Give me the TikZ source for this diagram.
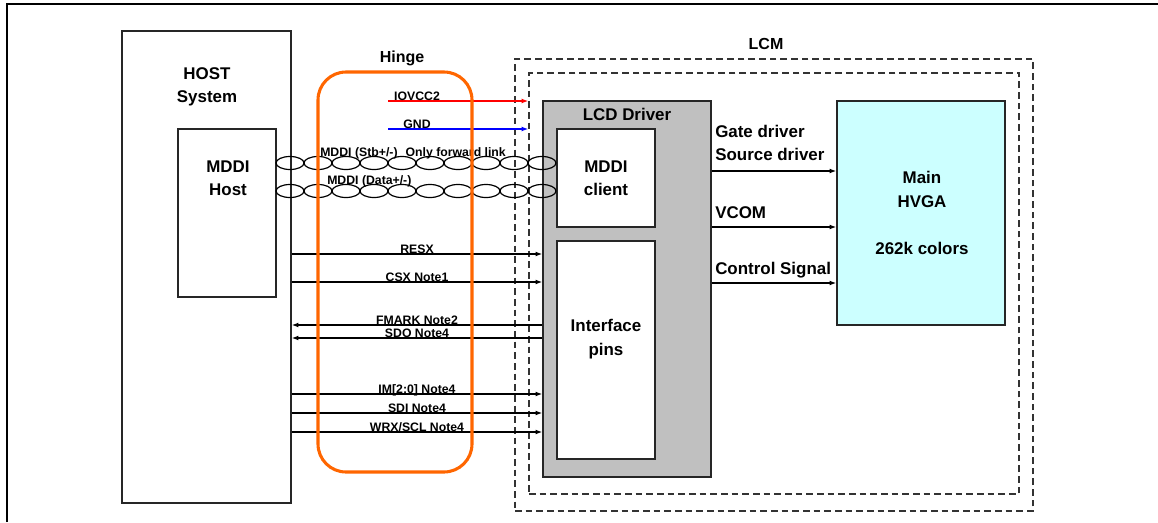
\documentclass[tikz,border=0pt]{standalone}
\usepackage{fontspec}
\setmainfont{Liberation Sans}
\usetikzlibrary{arrows.meta,fit}
\definecolor{hingeor}{HTML}{FF6600}
\definecolor{lcdgray}{HTML}{C0C0C0}
\definecolor{panelcyan}{HTML}{CCFFFF}
\begin{document}
\begin{tikzpicture}[x=0.75pt,y=-0.75pt,
  box/.style={draw=black!85,line width=1.1pt,inner sep=0pt},
  big/.style={font=\bfseries\fontsize{12.7}{17.6}\selectfont,align=center,inner sep=0pt},
  mid/.style={font=\bfseries\fontsize{12}{14}\selectfont,inner sep=0pt},
  small/.style={font=\bfseries\fontsize{9.2}{10}\selectfont,inner sep=0pt,anchor=base},
  tip/.tip={Latex[length=5pt,width=3.6pt]},
  sig/.style={line width=0.8pt,-tip},
  sigl/.style={line width=0.8pt,tip-},
  lcmline/.style={dash pattern=on 5pt off 3pt,line width=1pt,draw=black!80},
  pair/.style={line width=0.9pt,draw=black},
  ]
\useasboundingbox (0,0) rectangle (1158,522);
% outer frame
\coordinate (fTL) at (7,4);
\coordinate (fBL) at (7,522);
\coordinate (fTR) at (1158,4);
\draw[line width=1.6pt] (fBL) -- (fTL) -- (fTR);

% LCM dashed frames
\node[fit={(515,59) (1033,511)},inner sep=0pt,lcmline,draw] (lcmout) {};
\node[fit={(529,73) (1019,494)},inner sep=0pt,lcmline,draw] (lcmin) {};
\node[mid] (lcmtxt) at (766,44) {LCM};

% HOST
\node[fit={(122,31) (291,503)},box] (host) {};
\node[big] (hosttxt) at (207,87) {HOST\\System};
\node[fit={(178,129) (276,297)},box] (mhost) {};
\node[big] (mhosttxt) at (228,178) {MDDI\\Host};

% LCD driver
\node[fit={(543,101) (711,477)},box,fill=lcdgray] (lcd) {};
\node[big] (lcdtxt) at (627,114) {LCD Driver};
\node[fit={(557,129) (655,227)},box,fill=white,line width=1.4pt] (client) {};
\node[big] (clienttxt) at (606,178) {MDDI\\client};
\node[fit={(557,241) (655,459)},box,fill=white,line width=1.4pt] (iface) {};
\node[big] (ifacetxt) at (606,339) {Interface\\pins};

% Main panel
\node[fit={(837,101) (1005,325)},box,fill=panelcyan] (main) {};
\node[big] (maint1) at (922,189.5) {Main\\HVGA};
\node[big] (maint2) at (922,248) {262k colors};

% LCD driver -> panel
\coordinate (r1) at (0,171);
\coordinate (r2) at (0,227);
\coordinate (r3) at (0,283);
\draw[sig] (lcd.east |- r1) -- (main.west |- r1);
\draw[sig] (lcd.east |- r2) -- (main.west |- r2);
\draw[sig] (lcd.east |- r3) -- (main.west |- r3);
\node[big,anchor=west,align=left] (gatetxt) at (715,143) {Gate driver\\Source driver};
\node[big,anchor=west] (vcomtxt) at (715,213) {VCOM};
\node[big,anchor=west] (ctrltxt) at (715,270) {Control Signal};

% power lines
\coordinate (pv) at (388,101);
\coordinate (pg) at (388,129);
\draw[line width=0.9pt,red,-tip] (pv) -- (pv -| lcmin.west);
\draw[line width=0.9pt,blue,-tip] (pg) -- (pg -| lcmin.west);
\node[small] (vtxt) at (417,100) {IOVCC2};
\node[small] (gtxt) at (417,128) {GND};

% MDDI pairs
\foreach \k in {0,...,9}{
  \draw[pair] (290+28*\k,163) ellipse [x radius=14, y radius=6.5];
  \draw[pair] (290+28*\k,191) ellipse [x radius=14, y radius=6.5];
}
\node[small,anchor=base west] (stbtxt) at (320,156) {MDDI (Stb+/-)\hspace{6pt}Only forward link};
\node[small,anchor=base west] (datatxt) at (327,184) {MDDI (Data+/-)};

% interface signals
\foreach \y/\t/\n/\s in {254/RESX/a/sig, 282/{CSX Note1}/b/sig, 325/{FMARK Note2}/c/sigl, 338/{SDO Note4}/d/sigl, 394/{IM[2:0] Note4}/e/sig, 413/{SDI Note4}/f/sig, 432/{WRX/SCL Note4}/g/sig}{
  \coordinate (y\n) at (0,\y);
  \draw[\s] (host.east |- y\n) -- (lcd.west |- y\n);
  \node[small] (t\n) at (417,\y-0.5) {\t};
}

% hinge
\node[fit={(318,72) (472,472)},inner sep=0pt,draw=hingeor,line width=2.3pt,rounded corners=21pt] (hinge) {};
\node[mid] (hingetxt) at (402,58) {Hinge};
\end{tikzpicture}
\end{document}
